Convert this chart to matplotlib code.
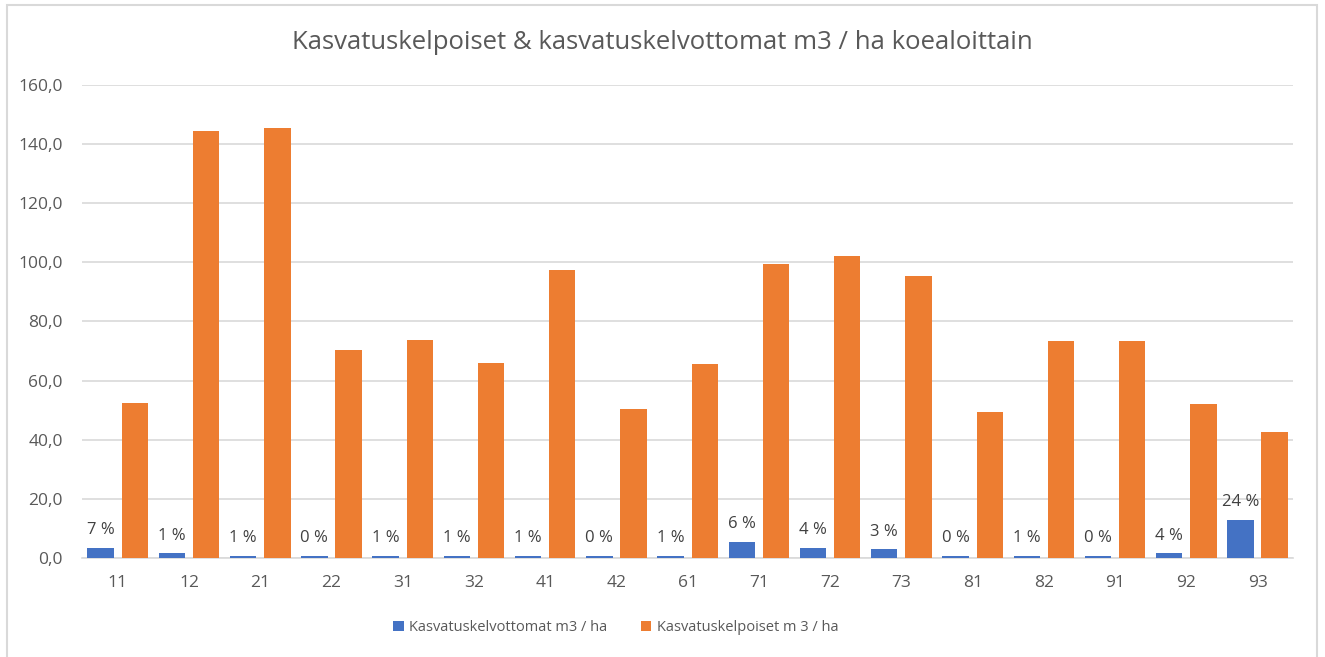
import matplotlib.pyplot as plt
from matplotlib.patches import Rectangle
import numpy as np

plt.rcParams['font.family'] = ['Open Sans', 'DejaVu Sans']

# Data
plots = ['11', '12', '21', '22', '31', '32', '41', '42', '61',
         '71', '72', '73', '81', '82', '91', '92', '93']
unfit = [3.5, 1.6, 0.6, 0.6, 0.6, 0.6, 0.6, 0.6, 0.6,
         5.5, 3.5, 2.9, 0.6, 0.6, 0.6, 1.6, 13.0]
fit = [52.4, 144.4, 145.5, 70.4, 73.7, 66.0, 97.4, 50.4, 65.6,
       99.5, 102.2, 95.4, 49.4, 73.4, 73.4, 52.1, 42.6]
share_labels = ['7 %', '1 %', '1 %', '0 %', '1 %', '1 %', '1 %', '0 %', '1 %',
                '6 %', '4 %', '3 %', '0 %', '1 %', '0 %', '4 %', '24 %']

blue = '#4472C4'
orange = '#ED7D31'
grid = '#D9D9D9'
txt = '#595959'

fig = plt.figure(figsize=(13.25, 6.57), dpi=100)
ax = fig.add_axes([0.062, 0.1507, 0.914, 0.72])

x = np.arange(len(plots))
w = 0.37
b1 = ax.bar(x - 0.24, unfit, w, color=blue, label='Kasvatuskelvottomat m3 / ha', zorder=3)
b2 = ax.bar(x + 0.24, fit, w, color=orange, label='Kasvatuskelpoiset m 3 / ha', zorder=3)

for rect, lab in zip(b1, share_labels):
    ax.annotate(lab, (rect.get_x() + rect.get_width() / 2, rect.get_height()),
                xytext=(0, 7), textcoords='offset points', ha='center', va='bottom',
                fontsize=12, color='#404040')

ax.set_xlim(-0.5, len(plots) - 0.5)
ax.set_ylim(0, 160)
ax.set_yticks(np.arange(0, 161, 20))
ax.set_yticklabels([f'{v:.1f}'.replace('.', ',') for v in np.arange(0, 161, 20)])
ax.set_xticks(x)
ax.set_xticklabels(plots)
ax.tick_params(axis='both', length=0, labelsize=12.5, colors=txt)
ax.tick_params(axis='x', pad=12)
ax.tick_params(axis='y', pad=14)
ax.yaxis.grid(True, color=grid, linewidth=1.2, zorder=0)
for s in ['top', 'right', 'left']:
    ax.spines[s].set_visible(False)
ax.spines['bottom'].set_color(grid)
ax.spines['bottom'].set_linewidth(1.2)

fig.text(0.5, 0.935, 'Kasvatuskelpoiset & kasvatuskelvottomat m3 / ha koealoittain',
         ha='center', va='center', fontsize=18.5, color=txt)

fig.legend(loc='center', bbox_to_anchor=(0.465, 0.045), ncol=2, frameon=False,
           fontsize=10.5, labelcolor=txt, handlelength=0.7, handleheight=0.7,
           handletextpad=0.4, columnspacing=2.3)

# chart frame
fig.patches.append(Rectangle((7 / 1325, -0.01), 1310 / 1325, 1 - 5 / 657 + 0.01,
                             transform=fig.transFigure, fill=False,
                             edgecolor=grid, linewidth=1.5))

fig.savefig('out.png', dpi=100)
